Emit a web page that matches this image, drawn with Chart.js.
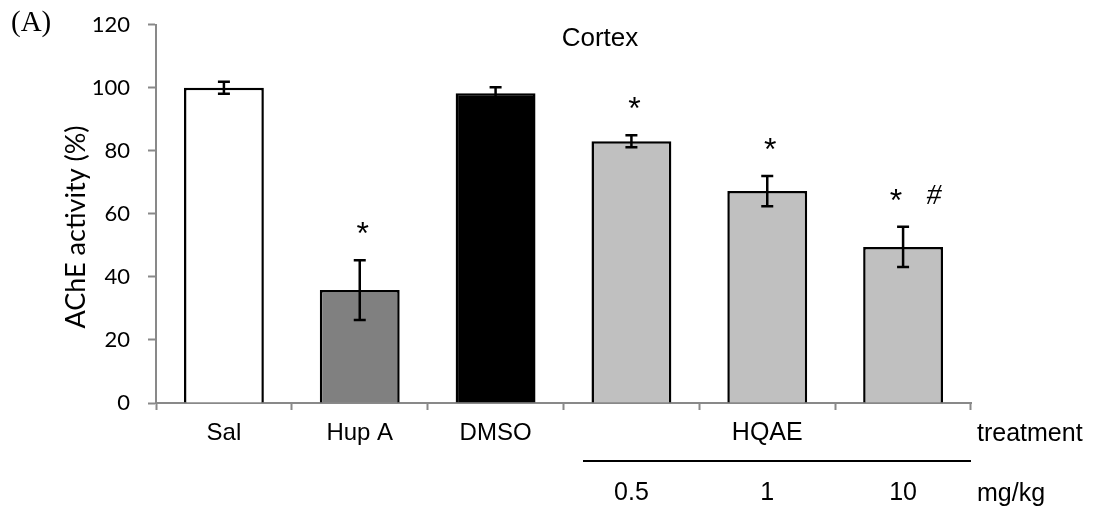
<!DOCTYPE html>
<html>
<head>
<meta charset="utf-8">
<script src="https://cdn.jsdelivr.net/npm/chart.js@4.4.1/dist/chart.umd.min.js"></script>
<style>
  html, body { margin: 0; padding: 0; background: #fff; }
  #wrap { width: 1103px; height: 516px; }
</style>
</head>
<body>
<div id="wrap"><canvas id="chart"></canvas></div>
<script>
// AChE activity in cortex, per treatment group (mean and error)
const groups = ['Sal', 'Hup A', 'DMSO', 'HQAE 0.5', 'HQAE 1', 'HQAE 10'];
const tickNames = ['Sal', 'Hup A', 'DMSO', '', '', ''];
const activity = [100, 35.8, 98.2, 83.0, 67.2, 49.5];
const errors = [1.9, 9.5, 1.9, 1.9, 4.8, 6.4];
const barColors = ['#ffffff', '#808080', '#000000', '#c0c0c0', '#c0c0c0', '#c0c0c0'];
const stars = ['', '*', '', '*', '*', '*'];
const hashes = ['', '', '', '', '', '#'];
const doses = ['', '', '', '0.5', '1', '10'];
const yMin = 0, yMax = 120, yStep = 20;

const AXIS_GREY = '#898989';
const SANS = '"Liberation Sans", Arial, sans-serif';
const SERIF = '"Liberation Serif", "Times New Roman", serif';
const HUMANIST = 'Lato, "Open Sans", sans-serif';

// error bars, significance marks and the extra x-axis annotations
const extras = {
  id: 'extras',
  afterDatasetsDraw(chart) {
    const ctx = chart.ctx;
    const x = chart.scales.x, y = chart.scales.y;
    ctx.save();

    // error bars
    ctx.strokeStyle = '#000';
    ctx.lineWidth = 2.5;
    activity.forEach((v, i) => {
      const cx = x.getPixelForValue(i);
      const top = y.getPixelForValue(v + errors[i]);
      const bot = y.getPixelForValue(v - errors[i]);
      ctx.beginPath();
      ctx.moveTo(cx, top); ctx.lineTo(cx, bot);
      ctx.moveTo(cx - 6, top); ctx.lineTo(cx + 6, top);
      ctx.moveTo(cx - 6, bot); ctx.lineTo(cx + 6, bot);
      ctx.stroke();
    });

    // significance marks above the error bars
    ctx.fillStyle = '#000';
    ctx.textAlign = 'center';
    ctx.textBaseline = 'alphabetic';
    activity.forEach((v, i) => {
      const cx = x.getPixelForValue(i);
      const base = y.getPixelForValue(v + errors[i]) - 34 + 18;
      if (hashes[i]) {
        ctx.font = '32px ' + SANS;
        ctx.fillText(stars[i], cx - 7, base);
        ctx.font = 'italic 30px ' + SERIF;
        ctx.fillText(hashes[i], cx + 31, base - 7);
      } else if (stars[i]) {
        ctx.font = '32px ' + SANS;
        ctx.fillText(stars[i], cx + 3, base);
      }
    });

    // chart title
    ctx.font = '26px ' + SANS;
    ctx.fillText('Cortex', 600, 46);

    // panel letter
    ctx.textAlign = 'left';
    ctx.font = '29px ' + SERIF;
    ctx.fillText('(A)', 11, 31);

    // y-axis title
    ctx.save();
    ctx.translate(85, 227);
    ctx.rotate(-Math.PI / 2);
    ctx.textAlign = 'center';
    ctx.font = '27px ' + HUMANIST;
    ctx.fillText('AChE activity (%)', 0, 0);
    ctx.restore();

    // HQAE group label, bracket line and doses
    ctx.font = '25px ' + SANS;
    ctx.textAlign = 'center';
    ctx.fillText('HQAE', x.getPixelForValue(4), 440);
    doses.forEach((d, i) => {
      if (d) ctx.fillText(d, x.getPixelForValue(i), 500);
    });
    ctx.textAlign = 'left';
    ctx.fillText('treatment', 977, 441);
    ctx.fillText('mg/kg', 977, 501);

    ctx.strokeStyle = '#000';
    ctx.lineWidth = 2;
    ctx.beginPath();
    ctx.moveTo(583, 461);
    ctx.lineTo(chart.chartArea.right, 461);
    ctx.stroke();

    ctx.restore();
  }
};

new Chart(document.getElementById('chart'), {
  type: 'bar',
  data: {
    labels: groups,
    datasets: [{
      data: activity,
      backgroundColor: barColors,
      borderColor: '#000',
      borderWidth: 2.5,
      borderSkipped: 'start',
      categoryPercentage: 1,
      barPercentage: 0.588
    }]
  },
  options: {
    responsive: true,
    maintainAspectRatio: false,
    animation: false,
    layout: { padding: { top: 24.5, right: 132, bottom: 0, left: 0 } },
    plugins: {
      legend: { display: false },
      tooltip: { enabled: false }
    },
    scales: {
      x: {
        offset: true,
        grid: {
          offset: true,
          drawOnChartArea: false,
          drawTicks: true,
          tickLength: 7,
          tickWidth: 2,
          tickColor: AXIS_GREY
        },
        border: { color: AXIS_GREY, width: 2 },
        ticks: {
          padding: 9,
          color: '#000',
          font: { family: SANS, size: 24 },
          callback: (v, i) => tickNames[i]
        },
        afterFit: s => { s.height = 113; }
      },
      y: {
        min: yMin,
        max: yMax,
        grid: {
          drawOnChartArea: false,
          drawTicks: true,
          tickLength: 8,
          tickWidth: 2,
          tickColor: AXIS_GREY
        },
        border: { color: AXIS_GREY, width: 2 },
        ticks: {
          stepSize: yStep,
          padding: 18,
          color: '#000',
          // small line height keeps the top label from pushing the plot down
          font: { family: HUMANIST, size: 22, lineHeight: 0.6 }
        },
        afterFit: s => { s.width = 156; }
      }
    }
  },
  plugins: [extras]
});
</script>
</body>
</html>
